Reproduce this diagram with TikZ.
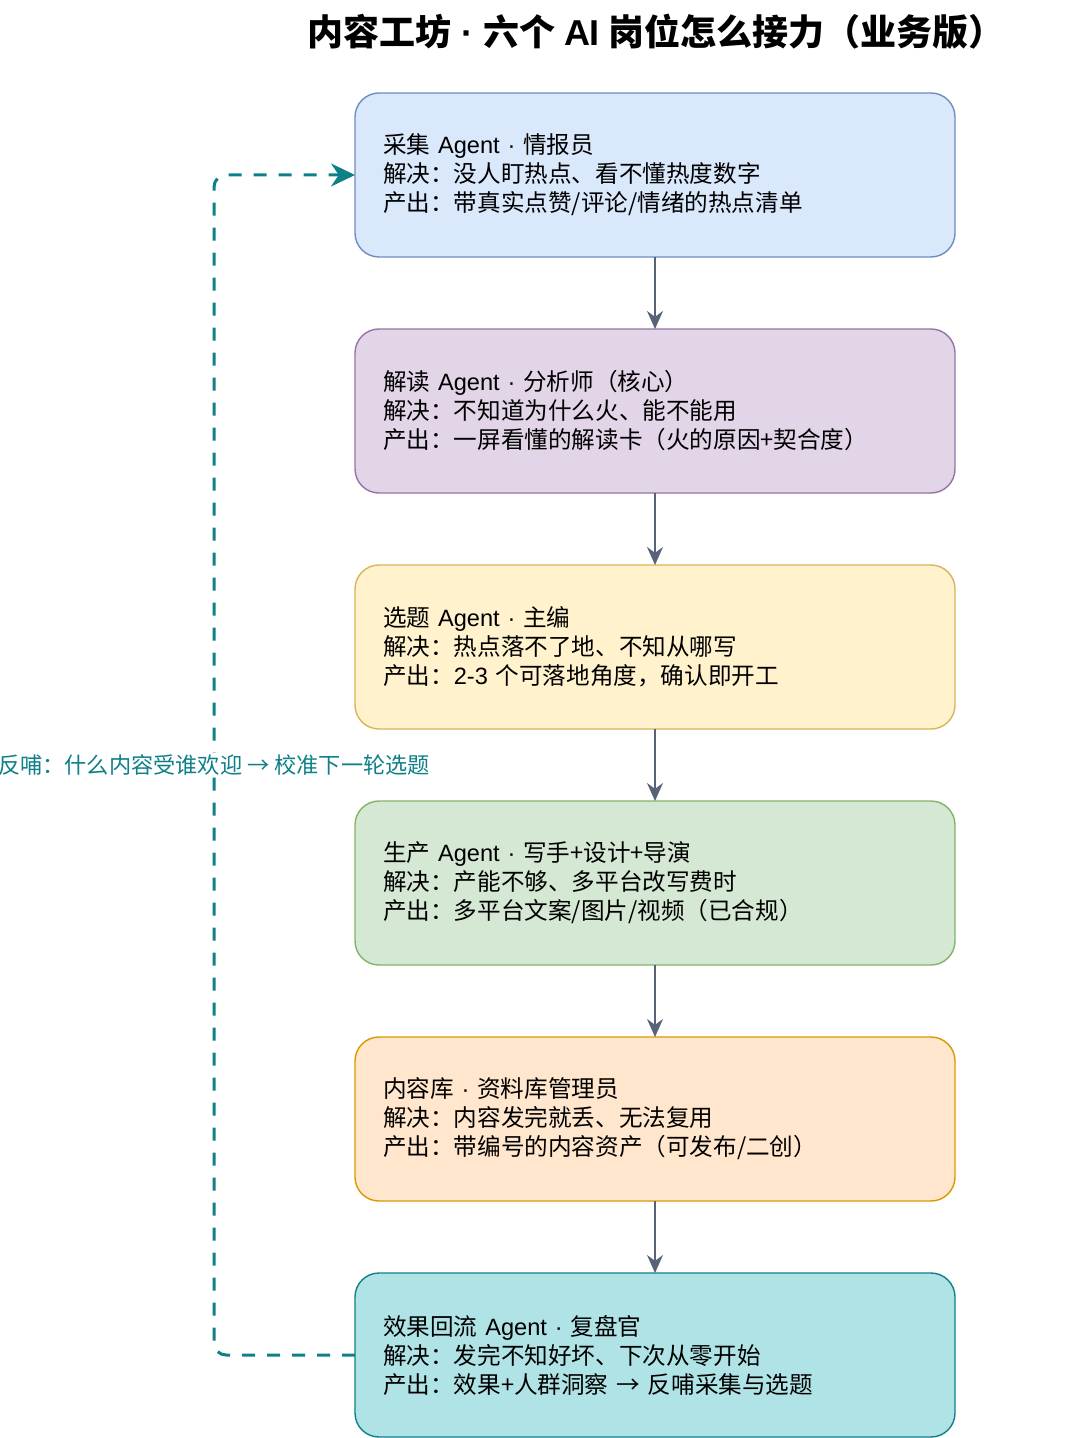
\documentclass[tikz,border=0pt]{standalone}
\usepackage{fontspec}
\setmainfont{Noto Sans CJK SC}
\newfontfamily\latinfont{Liberation Sans}
\usepackage{xcolor}
\usetikzlibrary{arrows.meta,positioning}

\newcommand\lat[1]{{\latinfont #1}}

\definecolor{fillA}{HTML}{DAE8FC}\definecolor{lineA}{HTML}{6C8EBF}
\definecolor{fillB}{HTML}{E1D5E7}\definecolor{lineB}{HTML}{9673A6}
\definecolor{fillC}{HTML}{FFF2CC}\definecolor{lineC}{HTML}{D6B656}
\definecolor{fillD}{HTML}{D5E8D4}\definecolor{lineD}{HTML}{82B366}
\definecolor{fillE}{HTML}{FFE6CC}\definecolor{lineE}{HTML}{D79B00}
\definecolor{fillF}{HTML}{B0E3E6}\definecolor{lineF}{HTML}{0E8088}
\definecolor{flowgray}{HTML}{596377}

\begin{document}
\begin{tikzpicture}[>=Stealth, node distance=36pt,
  stage/.style={draw, rounded corners=12pt, line width=0.7pt, outer sep=0pt,
    minimum width=300pt, minimum height=82pt, text width=272pt,
    inner xsep=14pt, align=left,
    font=\fontsize{11.8}{14.5}\selectfont},
  flow/.style={->, draw=flowgray, line width=0.8pt,
    arrows={-Stealth[length=9pt,width=8pt]}},
  feedback/.style={draw=lineF, line width=1.5pt, dash pattern=on 6.5pt off 6pt,
    rounded corners=6pt, arrows={-Stealth[length=12pt,width=11.5pt]}},
  fblabel/.style={fill=white, text=lineF, inner sep=1pt,
    font=\fontsize{11.1}{13}\selectfont}]

  \useasboundingbox (0,0) rectangle (538pt,-719pt);

  % Title
  \node (title) at (328pt,-16pt) {\fontsize{18}{20}\selectfont\bfseries
    内容工坊\lat{\bfseries{} · }六个 \lat{\bfseries AI} 岗位怎么接力（业务版）};

  % Define nodes
  \node[stage, fill=fillA, draw=lineA] (b1) at (327.5pt,-87.5pt)
    {采集 \lat{Agent · }情报员\\解决：没人盯热点、看不懂热度数字\\产出：带真实点赞/评论/情绪的热点清单};
  \node[stage, fill=fillB, draw=lineB, below=of b1] (b2)
    {解读 \lat{Agent · }分析师（核心）\\解决：不知道为什么火、能不能用\\产出：一屏看懂的解读卡（火的原因+契合度）};
  \node[stage, fill=fillC, draw=lineC, below=of b2] (b3)
    {选题 \lat{Agent · }主编\\解决：热点落不了地、不知从哪写\\产出：\lat{2-3} 个可落地角度，确认即开工};
  \node[stage, fill=fillD, draw=lineD, below=of b3] (b4)
    {生产 \lat{Agent · }写手+设计+导演\\解决：产能不够、多平台改写费时\\产出：多平台文案/图片/视频（已合规）};
  \node[stage, fill=fillE, draw=lineE, below=of b4] (b5)
    {内容库\lat{ · }资料库管理员\\解决：内容发完就丢、无法复用\\产出：带编号的内容资产（可发布/二创）};
  \node[stage, fill=fillF, draw=lineF, below=of b5] (b6)
    {效果回流 \lat{Agent · }复盘官\\解决：发完不知好坏、下次从零开始\\产出：效果+人群洞察 → 反哺采集与选题};

  % Draw arrows
  \draw[flow] (b1) -- (b2);
  \draw[flow] (b2) -- (b3);
  \draw[flow] (b3) -- (b4);
  \draw[flow] (b4) -- (b5);
  \draw[flow] (b5) -- (b6);

  % Feedback loop
  \coordinate (fbx) at (107pt,-382.5pt);
  \draw[feedback] (b6.west) -| (fbx) |- (b1.west);
  \node[fblabel] (fb) at (fbx) {反哺：什么内容受谁欢迎 → 校准下一轮选题};
\end{tikzpicture}
\end{document}
